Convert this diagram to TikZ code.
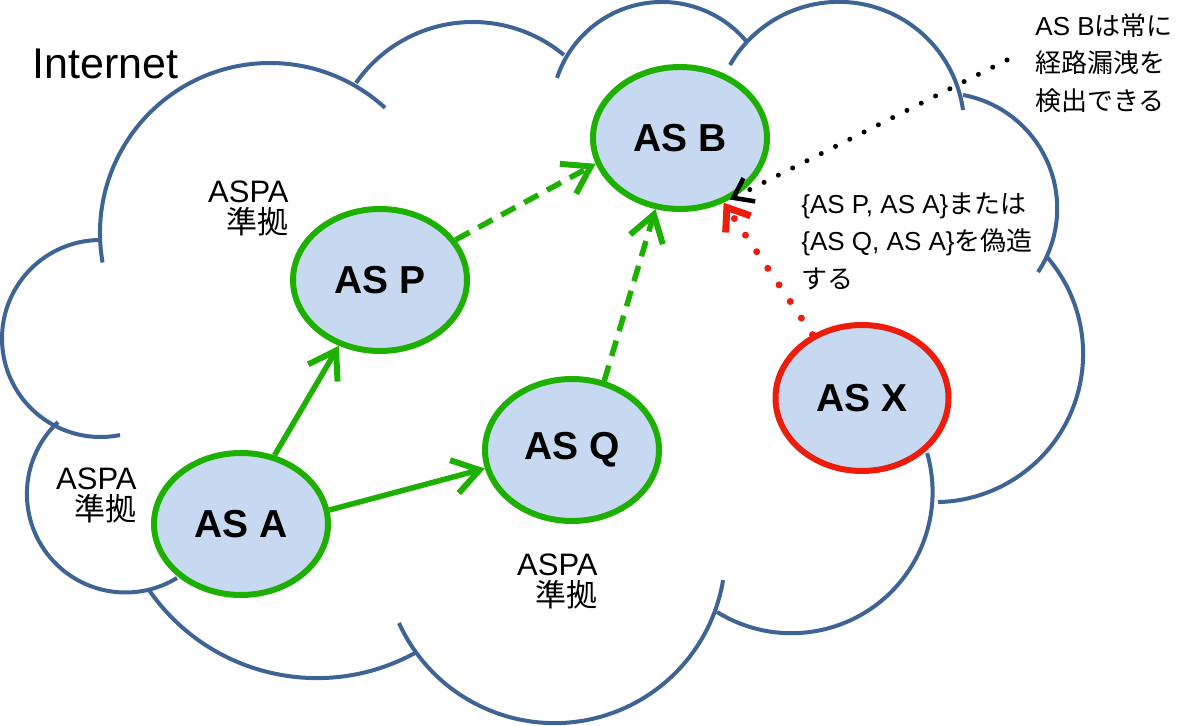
\documentclass[tikz,border=0pt]{standalone}
\usepackage{fontspec}
\setmainfont{Liberation Sans}
\newfontfamily\jp{Noto Sans CJK JP}
\usetikzlibrary{shapes.geometric,arrows.meta}

\definecolor{cloudblue}{RGB}{62,100,150}
\definecolor{asfill}{RGB}{198,217,240}
\definecolor{okgreen}{RGB}{30,176,0}
\definecolor{badred}{RGB}{238,28,10}

\tikzset{
  cloudline/.style={cloudblue, line width=2pt},
  asnode/.style={ellipse, draw=okgreen, fill=asfill, line width=3pt, inner sep=0pt,
    minimum width=87pt, minimum height=71pt, font=\fontsize{19.5}{23}\bfseries\selectfont},
  okarrow/.style={okgreen, line width=2.75pt, -{Straight Barb[length=13pt,width=17pt,line width=3pt]}},
  okdash/.style={okarrow, dash pattern=on 8pt off 5pt},
  aspalabel/.style={align=right, inner sep=0pt, font=\fontsize{15.5}{15.5}\selectfont},
  notelabel/.style={align=left, inner sep=0pt, font=\fontsize{13}{18.75}\selectfont}
}

\begin{document}
\begin{tikzpicture}[x=0.5pt, y=-0.5pt, line join=round]

\useasboundingbox (0,0) rectangle (1200,726);

% cloud: one arc per lobe (centre x / centre y / radius / start / end)
\foreach \cx/\cy/\r/\s/\e in {270/233/170/170/312.6, 472.8/164.4/142.4/214.9/309.8,
    661.9/112.4/110.4/198.2/320.4, 838.8/127.3/125.4/209.8/352.1,
    941.8/208.4/115.4/-79.4/33.5, 934.9/353.9/148.2/-40.8/88.8,
    791.4/492/141.2/121.8/-16, 554.5/552.2/170.9/155.5/9.4,
    316.9/474/204.1/145.4/61.3, 125.5/493.9/98.6/226.8/58.5,
    100.5/338.5/98.5/269.7/78.6}
  \draw[cloudline] ([shift={(\s:\r)}]\cx,\cy) arc[start angle=\s, end angle=\e, radius=\r];

\node[anchor=base west, inner sep=0pt, font=\fontsize{21.5}{24}\selectfont] (inet) at (32,79) {Internet};

% ASes
\node[asnode] (b) at (680,138) {AS B};
\node[asnode] (p) at (380,280) {AS P};
\node[asnode] (q) at (572,450) {AS Q};
\node[asnode] (a) at (241,524) {AS A};
\node[asnode, draw=badred, minimum width=86.5pt, minimum height=73pt] (x) at (862,398) {AS X};

\node[aspalabel, anchor=north east] (aspap) at (289,180) {ASPA\\{\jp 準拠}};
\node[aspalabel, anchor=north east] (aspaa) at (137,467) {ASPA\\{\jp 準拠}};
\node[aspalabel, anchor=north east] (aspaq) at (598,553) {ASPA\\{\jp 準拠}};

% announcements
\draw[okarrow] (a.64) -- (p.238);
\draw[okarrow] (a.9) -- (q.192);
\draw[okdash] (p.28) -- (b.197);
\draw[okdash] (q.65) -- (b.251);

% forged path
\draw[badred, line width=3.5pt, line cap=round, dash pattern=on 0pt off 10pt,
  -{Straight Barb[length=10pt,width=15pt,line width=3.5pt]}] (x.128) -- (b.304);
\node[notelabel, anchor=north west] (forge) at (801,192)
  {\{AS P, AS A\}{\jp または}\\\{AS Q, AS A\}{\jp を偽造}\\{\jp する}};

% detection note
\node[notelabel, anchor=north west] (detect) at (1035,13)
  {AS B{\jp は常に}\\{\jp 経路漏洩を}\\{\jp 検出できる}};
\coordinate (notestart) at (1007,60);
\draw[black, line width=2.5pt, line cap=round, dash pattern=on 0pt off 8pt,
  -{Straight Barb[length=9pt,width=13pt,line width=2.25pt]}] (notestart) -- (b.309);

\end{tikzpicture}
\end{document}
